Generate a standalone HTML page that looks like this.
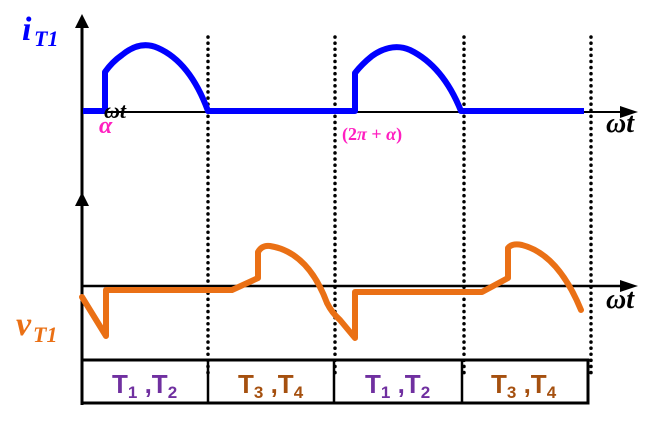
<!DOCTYPE html>
<html><head><style>
body{margin:0;background:#fff;}
svg{display:block}
</style></head><body>
<svg width="672" height="423" xmlns="http://www.w3.org/2000/svg">
<g stroke="#000" stroke-width="3.5" stroke-dasharray="0.1 6" stroke-linecap="round" fill="none">
<line x1="208" y1="37" x2="208" y2="378"/>
<line x1="335" y1="37" x2="335" y2="378"/>
<line x1="464" y1="37" x2="464" y2="378"/>
<line x1="591" y1="37" x2="591" y2="378"/>
</g>
<line x1="82" y1="405" x2="82" y2="22" stroke="#000" stroke-width="3"/>
<path d="M75,28 L82,14 L89,28 z" fill="#000"/>
<path d="M75,206 L82,192 L89,206 z" fill="#000"/>
<line x1="82" y1="112" x2="632" y2="112" stroke="#000" stroke-width="2"/>
<path d="M620,106 L638,112 L620,118 z" fill="#000"/>
<line x1="82" y1="286" x2="632" y2="286" stroke="#000" stroke-width="2.5"/>
<path d="M620,280 L638,286 L620,292 z" fill="#000"/>
<rect x="82" y="360" width="506" height="43" fill="none" stroke="#000" stroke-width="3"/>
<line x1="208" y1="360" x2="208" y2="403" stroke="#000" stroke-width="2.5"/>
<line x1="334" y1="360" x2="334" y2="403" stroke="#000" stroke-width="2.5"/>
<line x1="462" y1="360" x2="462" y2="403" stroke="#000" stroke-width="2.5"/>
<g stroke="#0000ff" stroke-width="6" fill="none" stroke-linejoin="round">
<path d="M83,111 L105,111 L105,72 Q112,62 122,55 Q140,40 158,48 Q190,62 208,111 L355,111 L355,73 Q362,64 372,56 Q392,42 410,50 Q443,66 461,111 L584,111"/>
</g>
<g stroke="#ea7015" stroke-width="6" fill="none" stroke-linejoin="round" stroke-linecap="round">
<path d="M82,297 L106,336 L106,290 L232,290 L258,278 L258,252 Q262,245 270,246 Q308,252 327,303 Q332,313 340,320 L355,338 L355,292 L482,292 L508,278 L508,248 Q512,243 522,245 Q558,254 581,310"/>
</g>
<g font-family="Liberation Serif, serif" font-style="italic" font-weight="bold">
<text x="22" y="40" font-size="34" fill="#0000ff">i</text>
<text x="34" y="46" font-size="22" fill="#0000ff">T1</text>
<text x="16" y="335" font-size="34" fill="#ea7015">v</text>
<text x="33" y="342" font-size="22" fill="#ea7015">T1</text>
<text x="99" y="133" font-size="24" fill="#ff1fc0">α</text>
<text x="104" y="118" font-size="22" fill="#000">ωt</text>
<text x="606" y="132" font-size="28" fill="#000">ωt</text>
<text x="606" y="308" font-size="28" fill="#000">ωt</text>
</g>
<text x="342" y="140" font-family="Liberation Serif, serif" font-size="18" font-weight="bold" fill="#ff1fc0">(2<tspan font-style="italic">π</tspan> + <tspan font-style="italic">α</tspan>)</text>
<g font-family="Liberation Sans, sans-serif" font-size="26" font-weight="bold">
<text x="112" y="393" fill="#7030a0">T<tspan font-size="17" dy="5">1</tspan><tspan dy="-5"> ,T</tspan><tspan font-size="17" dy="5">2</tspan></text>
<text x="238" y="393" fill="#a5500f">T<tspan font-size="17" dy="5">3</tspan><tspan dy="-5"> ,T</tspan><tspan font-size="17" dy="5">4</tspan></text>
<text x="365" y="393" fill="#7030a0">T<tspan font-size="17" dy="5">1</tspan><tspan dy="-5"> ,T</tspan><tspan font-size="17" dy="5">2</tspan></text>
<text x="491" y="393" fill="#a5500f">T<tspan font-size="17" dy="5">3</tspan><tspan dy="-5"> ,T</tspan><tspan font-size="17" dy="5">4</tspan></text>
</g>
</svg>
</body></html>
